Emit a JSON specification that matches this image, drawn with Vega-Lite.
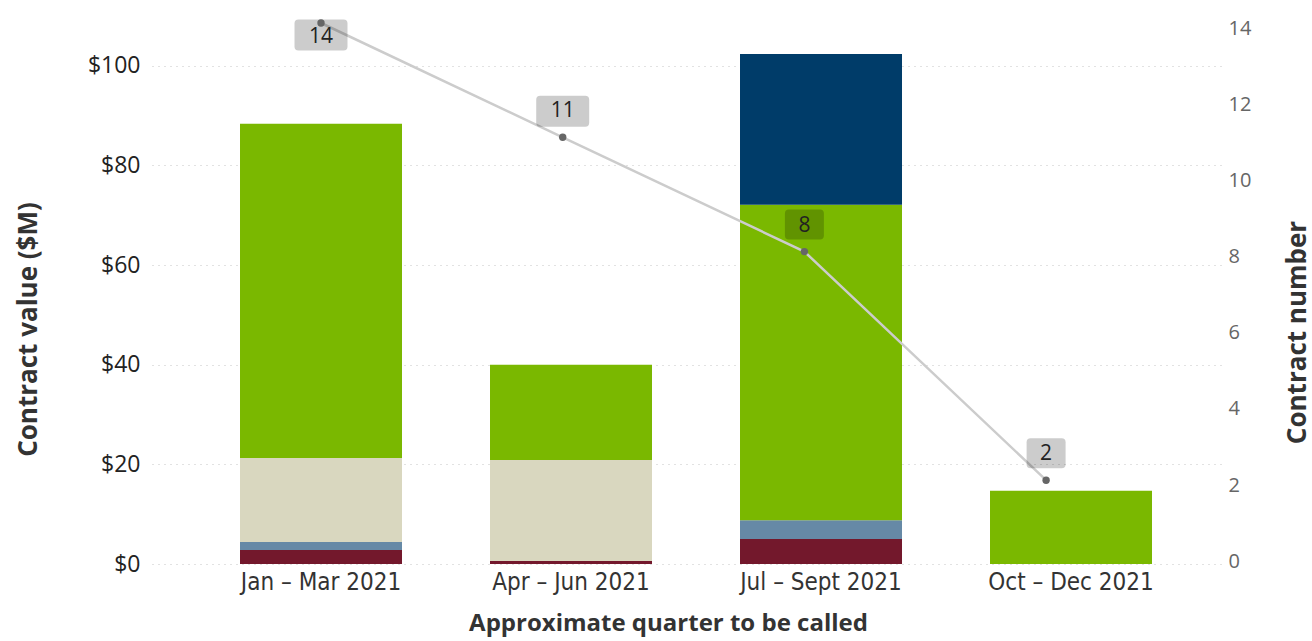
{
  "$schema": "https://vega.github.io/schema/vega-lite/v6.json",
  "width": 1070,
  "height": 541,
  "autosize": {"type": "none"},
  "padding": {"left": 152, "top": 23, "right": 90, "bottom": 77},
  "background": "white",
  "config": {"view": {"stroke": null}, "font": "Open Sans"},
  "datasets": {
    "bars": [
      {"quarter": "Jan – Mar 2021", "category": "Type 1", "value": 2.8},
      {"quarter": "Jan – Mar 2021", "category": "Type 2", "value": 1.6},
      {"quarter": "Jan – Mar 2021", "category": "Type 3", "value": 16.9},
      {"quarter": "Jan – Mar 2021", "category": "Type 4", "value": 67.1},
      {"quarter": "Apr – Jun 2021", "category": "Type 1", "value": 0.6},
      {"quarter": "Apr – Jun 2021", "category": "Type 3", "value": 20.3},
      {"quarter": "Apr – Jun 2021", "category": "Type 4", "value": 19.1},
      {"quarter": "Jul – Sept 2021", "category": "Type 1", "value": 5.0},
      {"quarter": "Jul – Sept 2021", "category": "Type 2", "value": 3.8},
      {"quarter": "Jul – Sept 2021", "category": "Type 4", "value": 63.3},
      {"quarter": "Jul – Sept 2021", "category": "Type 5", "value": 30.3},
      {"quarter": "Oct – Dec 2021", "category": "Type 4", "value": 14.7}
    ],
    "counts": [
      {"quarter": "Jan – Mar 2021", "contracts": 14},
      {"quarter": "Apr – Jun 2021", "contracts": 11},
      {"quarter": "Jul – Sept 2021", "contracts": 8},
      {"quarter": "Oct – Dec 2021", "contracts": 2}
    ]
  },
  "layer": [
    {
      "data": {"name": "bars"},
      "mark": {"type": "bar"},
      "encoding": {
        "x": {
          "field": "quarter", "type": "nominal", "sort": null,
          "scale": {"paddingInner": 0.352, "paddingOuter": 0.316, "align": 0.557},
          "axis": {
            "title": "Approximate quarter to be called",
            "labelAngle": 0, "ticks": false, "domain": false,
            "labelPadding": 6, "labelBaseline": "top",
            "labelFont": "Liberation Sans Narrow, DejaVu Sans Condensed, sans-serif",
            "labelFontSize": 24, "labelColor": "#333333",
            "titleFont": "Open Sans", "titleFontSize": 24, "titleFontWeight": "bold",
            "titleColor": "#333333", "titleX": 516, "titleY": 59, "titleBaseline": "middle"
          }
        },
        "y": {
          "field": "value", "type": "quantitative", "stack": "zero",
          "scale": {"domain": [0, 108.6], "nice": false},
          "axis": {
            "values": [0, 20, 40, 60, 80, 100],
            "labelExpr": "'$' + datum.value",
            "grid": true, "gridDash": [1, 5], "gridColor": "#c4c4c4", "gridWidth": 1,
            "ticks": false, "domain": false, "labelPadding": 12,
            "labelFont": "Open Sans", "labelFontSize": 23, "labelColor": "#222222",
            "title": "Contract value ($M)",
            "titleFont": "Open Sans", "titleFontSize": 26, "titleFontWeight": "bold",
            "titleColor": "#333333", "titleX": -124, "titleY": 306,
            "titleBaseline": "middle", "titleAngle": 270
          }
        },
        "color": {
          "field": "category", "type": "nominal",
          "scale": {
            "domain": ["Type 1", "Type 2", "Type 3", "Type 4", "Type 5"],
            "range": ["#73182C", "#6689A6", "#D9D7BF", "#7AB800", "#003C69"]
          },
          "legend": null
        },
        "order": {"field": "category", "sort": "ascending"}
      }
    },
    {
      "data": {"name": "counts"},
      "encoding": {
        "x": {
          "field": "quarter", "type": "nominal", "sort": null,
          "scale": {"type": "point", "padding": 0.7135, "align": 0.49},
          "axis": null
        },
        "y": {
          "field": "contracts", "type": "quantitative",
          "scale": {"domain": [-0.2, 14], "nice": false},
          "axis": {
            "orient": "right",
            "values": [0, 2, 4, 6, 8, 10, 12, 14],
            "grid": false, "ticks": false, "domain": false,
            "labelPadding": 6, "labelOffset": 5,
            "labelFont": "Open Sans", "labelFontSize": 20, "labelColor": "#666666",
            "title": "Contract number",
            "titleFont": "Open Sans", "titleFontSize": 26, "titleFontWeight": "bold",
            "titleColor": "#333333", "titleX": 75, "titleY": 309,
            "titleBaseline": "middle", "titleAngle": 270
          }
        }
      },
      "layer": [
        {"mark": {"type": "line", "color": "#cccccc", "strokeWidth": 2.5}},
        {
          "transform": [{"filter": "datum.contracts == 14"}],
          "mark": {
            "type": "point", "filled": true, "color": "#000000", "opacity": 0.2, "strokeWidth": 0,
            "size": 2809, "yOffset": 12,
            "shape": "M -0.85 -0.585 L 0.85 -0.585 Q 1 -0.585 1 -0.435 L 1 0.435 Q 1 0.585 0.85 0.585 L -0.85 0.585 Q -1 0.585 -1 0.435 L -1 -0.435 Q -1 -0.585 -0.85 -0.585 Z"
          }
        },
        {
          "transform": [{"filter": "datum.contracts >= 10 && datum.contracts != 14"}],
          "mark": {
            "type": "point", "filled": true, "color": "#000000", "opacity": 0.2, "strokeWidth": 0,
            "size": 2809, "yOffset": -26,
            "shape": "M -0.85 -0.585 L 0.85 -0.585 Q 1 -0.585 1 -0.435 L 1 0.435 Q 1 0.585 0.85 0.585 L -0.85 0.585 Q -1 0.585 -1 0.435 L -1 -0.435 Q -1 -0.585 -0.85 -0.585 Z"
          }
        },
        {
          "transform": [{"filter": "datum.contracts < 10"}],
          "mark": {
            "type": "point", "filled": true, "color": "#000000", "opacity": 0.2, "strokeWidth": 0,
            "size": 1521, "yOffset": -27,
            "shape": "M -0.795 -0.77 L 0.795 -0.77 Q 1 -0.77 1 -0.565 L 1 0.565 Q 1 0.77 0.795 0.77 L -0.795 0.77 Q -1 0.77 -1 0.565 L -1 -0.565 Q -1 -0.77 -0.795 -0.77 Z"
          }
        },
        {"mark": {"type": "point", "filled": true, "color": "#666666", "opacity": 1, "size": 55}},
        {
          "transform": [{"filter": "datum.contracts == 14"}],
          "mark": {"type": "text", "font": "Open Sans", "fontSize": 21, "color": "#222222", "baseline": "middle", "yOffset": 14},
          "encoding": {"text": {"field": "contracts", "type": "quantitative"}}
        },
        {
          "transform": [{"filter": "datum.contracts != 14"}],
          "mark": {"type": "text", "font": "Open Sans", "fontSize": 21, "color": "#222222", "baseline": "middle", "yOffset": -26},
          "encoding": {"text": {"field": "contracts", "type": "quantitative"}}
        }
      ]
    }
  ],
  "resolve": {"scale": {"x": "independent", "y": "independent"}}
}
